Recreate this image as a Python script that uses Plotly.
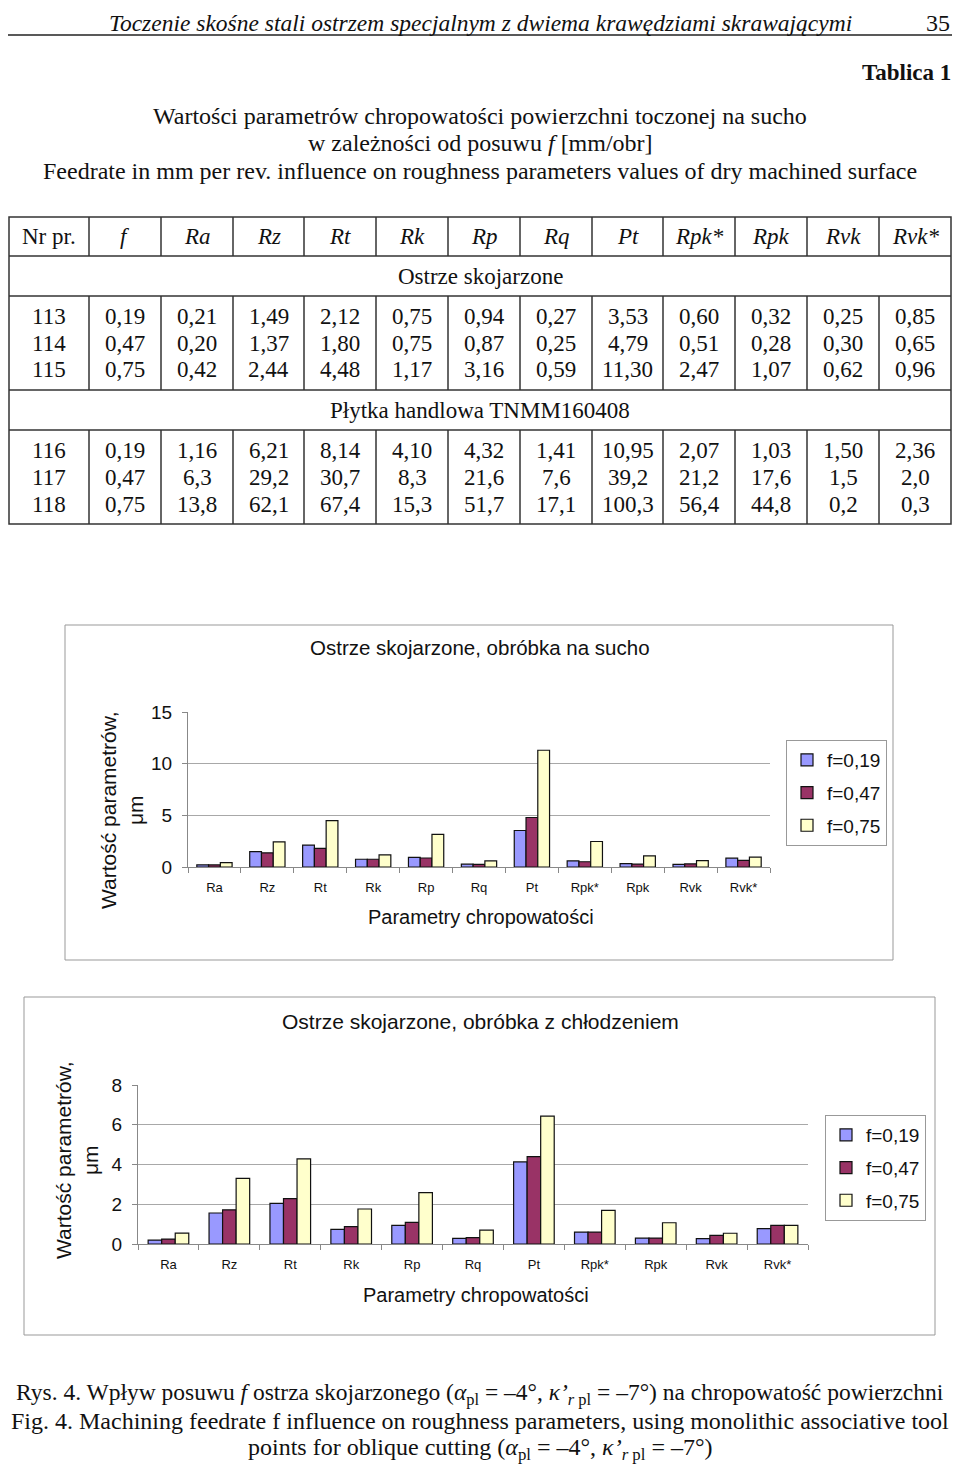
import plotly.graph_objects as go

# ---------------- data ----------------
params = ["Ra", "Rz", "Rt", "Rk", "Rp", "Rq", "Pt", "Rpk*", "Rpk", "Rvk", "Rvk*"]
header_cols = ["Nr pr.", "f"] + params

rows_skojarzone = [
    ["113", "0,19", "0,21", "1,49", "2,12", "0,75", "0,94", "0,27", "3,53", "0,60", "0,32", "0,25", "0,85"],
    ["114", "0,47", "0,20", "1,37", "1,80", "0,75", "0,87", "0,25", "4,79", "0,51", "0,28", "0,30", "0,65"],
    ["115", "0,75", "0,42", "2,44", "4,48", "1,17", "3,16", "0,59", "11,30", "2,47", "1,07", "0,62", "0,96"],
]
rows_handlowa = [
    ["116", "0,19", "1,16", "6,21", "8,14", "4,10", "4,32", "1,41", "10,95", "2,07", "1,03", "1,50", "2,36"],
    ["117", "0,47", "6,3", "29,2", "30,7", "8,3", "21,6", "7,6", "39,2", "21,2", "17,6", "1,5", "2,0"],
    ["118", "0,75", "13,8", "62,1", "67,4", "15,3", "51,7", "17,1", "100,3", "56,4", "44,8", "0,2", "0,3"],
]

series_names = ["f=0,19", "f=0,47", "f=0,75"]
dry_f019 = [0.21, 1.49, 2.12, 0.75, 0.94, 0.27, 3.53, 0.60, 0.32, 0.25, 0.85]
dry_f047 = [0.20, 1.37, 1.80, 0.75, 0.87, 0.25, 4.79, 0.51, 0.28, 0.30, 0.65]
dry_f075 = [0.42, 2.44, 4.48, 1.17, 3.16, 0.59, 11.30, 2.47, 1.07, 0.62, 0.96]

cool_f019 = [0.20, 1.56, 2.04, 0.74, 0.94, 0.28, 4.13, 0.60, 0.30, 0.27, 0.77]
cool_f047 = [0.25, 1.72, 2.28, 0.87, 1.09, 0.32, 4.40, 0.60, 0.30, 0.43, 0.94]
cool_f075 = [0.55, 3.30, 4.28, 1.76, 2.58, 0.70, 6.43, 1.69, 1.07, 0.54, 0.94]

colors = ["#9999FF", "#993366", "#FFFFCC"]

# ---------------- helpers ----------------
W, H = 960, 1466
OX, OY = 8, 8  # page body offset of the figure in the browser
SERIF = "Liberation Serif, Times New Roman, serif"
SANS = "Liberation Sans, Arial, sans-serif"


def X(px):
    return (px - OX) / W


def Y(py):
    return 1 - (py - OY) / H


annotations = []
shapes = []


def text(x, y, s, size=22, family=SERIF, xanchor="center", color="#111", angle=0):
    annotations.append(dict(
        x=X(x), y=Y(y), xref="paper", yref="paper", text=s, showarrow=False,
        xanchor=xanchor, yanchor="middle", textangle=angle,
        font=dict(size=size, family=family, color=color)))


def line(x0, y0, x1, y1, color="#333", width=1.5):
    shapes.append(dict(type="line", xref="paper", yref="paper",
                       x0=X(x0), y0=Y(y0), x1=X(x1), y1=Y(y1),
                       line=dict(color=color, width=width)))


def rect(x0, y0, x1, y1, color="#333", width=1.5):
    shapes.append(dict(type="rect", xref="paper", yref="paper",
                       x0=X(x0), y0=Y(y0), x1=X(x1), y1=Y(y1),
                       line=dict(color=color, width=width)))


# ---------------- page header ----------------
text(480, 23, "<i>Toczenie skośne stali ostrzem specjalnym z dwiema krawędziami skrawającymi</i>", 23.5)
text(952, 23, "35", 24, xanchor="right")
line(8, 35, 960, 35, "#222", 1.5)
text(953, 73, "<b>Tablica 1</b>", 23, xanchor="right")
text(480, 116, "Wartości parametrów chropowatości powierzchni toczonej na sucho", 24)
text(480, 143, "w zależności od posuwu <i>f</i> [mm/obr]", 24)
text(480, 171, "Feedrate in mm per rev. influence on roughness parameters values of dry machined surface", 24)

# ---------------- table ----------------
col_edges = [9, 89, 161, 233, 304, 376, 448, 520, 592, 663, 735, 807, 879, 951]
t_top, t_h1, t_s1, t_d1, t_s2, t_bot = 217, 256, 296, 390, 430, 524
rect(col_edges[0], t_top, col_edges[-1], t_bot)
for yy in (t_h1, t_s1, t_d1, t_s2):
    line(col_edges[0], yy, col_edges[-1], yy)
for xx in col_edges[1:-1]:
    for (a, b) in ((t_top, t_h1), (t_s1, t_d1), (t_s2, t_bot)):
        line(xx, a, xx, b)

centers = [(col_edges[i] + col_edges[i + 1]) / 2 for i in range(len(col_edges) - 1)]
for i, h in enumerate(header_cols):
    lab = h if i == 0 else "<i>" + h + "</i>"
    text(centers[i], 237, lab, 23)
text(480, 276, "Ostrze skojarzone", 23)
text(480, 410, "Płytka handlowa TNMM160408", 23)
for r, row in enumerate(rows_skojarzone):
    for c, v in enumerate(row):
        text(centers[c], 316 + 27 * r, v, 23)
for r, row in enumerate(rows_handlowa):
    for c, v in enumerate(row):
        text(centers[c], 450 + 27 * r, v, 23)

# ---------------- charts ----------------
fig = go.Figure()

for k, (vals, nm) in enumerate(zip([dry_f019, dry_f047, dry_f075], series_names)):
    fig.add_trace(go.Bar(x=params, y=vals, name=nm, xaxis="x", yaxis="y",
                         marker=dict(color=colors[k], line=dict(color="#111", width=1.2)),
                         legend="legend", legendgroup="d%d" % k))
for k, (vals, nm) in enumerate(zip([cool_f019, cool_f047, cool_f075], series_names)):
    fig.add_trace(go.Bar(x=params, y=vals, name=nm, xaxis="x2", yaxis="y2",
                         marker=dict(color=colors[k], line=dict(color="#111", width=1.2)),
                         legend="legend2", legendgroup="c%d" % k))

# chart frames and titles
rect(65, 625, 893, 960, "#999", 1)
rect(24, 997, 935, 1335, "#999", 1)
text(480, 648, "Ostrze skojarzone, obróbka na sucho", 20.5, SANS)
text(481, 917, "Parametry chropowatości", 20, SANS)
text(122, 810, "Wartość parametrów,<br>μm", 21, SANS, angle=-90)
text(480, 1021, "Ostrze skojarzone, obróbka z chłodzeniem", 21, SANS)
text(476, 1295, "Parametry chropowatości", 20, SANS)
text(77, 1160, "Wartość parametrów,<br>μm", 21, SANS, angle=-90)

xcommon = dict(type="category", showline=True, linecolor="#888", linewidth=1,
               ticks="outside", tickson="boundaries", ticklen=5, tickcolor="#888",
               tickfont=dict(size=13, family=SANS, color="#111"), showgrid=False,
               ticklabelstandoff=8)
ycommon = dict(showline=True, linecolor="#888", linewidth=1, ticks="outside", ticklen=5,
               tickcolor="#888", showgrid=True, gridcolor="#a8a8a8", gridwidth=1,
               tickfont=dict(size=19, family=SANS, color="#111"), zeroline=False,
               ticklabelstandoff=6)

legcommon = dict(xanchor="left", yanchor="top", bordercolor="#999", borderwidth=1,
                 bgcolor="white", font=dict(size=19, family=SANS, color="#111"),
                 itemwidth=30, tracegroupgap=5, traceorder="grouped")

fig.update_layout(
    width=W, height=H, margin=dict(l=0, r=0, t=0, b=0, autoexpand=False),
    paper_bgcolor="white", plot_bgcolor="white",
    barmode="group", bargap=0.333, bargroupgap=0,
    xaxis=dict(domain=[X(188), X(770)], anchor="y", **xcommon),
    yaxis=dict(domain=[Y(867), Y(712)], anchor="x", range=[0, 15], dtick=5, **ycommon),
    xaxis2=dict(domain=[X(138), X(808)], anchor="y2", **xcommon),
    yaxis2=dict(domain=[Y(1244), Y(1085)], anchor="x2", range=[0, 8], dtick=2, **ycommon),
    legend=dict(x=X(786), y=Y(740), **legcommon),
    legend2=dict(x=X(825), y=Y(1115), **legcommon),
    annotations=annotations, shapes=shapes, showlegend=True,
)

# ---------------- caption ----------------
alpha = "(<i>α</i><sub>pl</sub> = –4°, <i>κ’</i><sub><i>r</i> pl</sub> = –7°)"
text(480, 1394, "Rys. 4. Wpływ posuwu <i>f</i> ostrza skojarzonego " + alpha + " na chropowatość powierzchni", 23.5)
text(480, 1421, "Fig. 4. Machining feedrate f influence on roughness parameters, using monolithic associative tool", 24)
text(480, 1449, "points for oblique cutting " + alpha, 24)
fig.update_layout(annotations=annotations)

fig.write_html("out.html")
